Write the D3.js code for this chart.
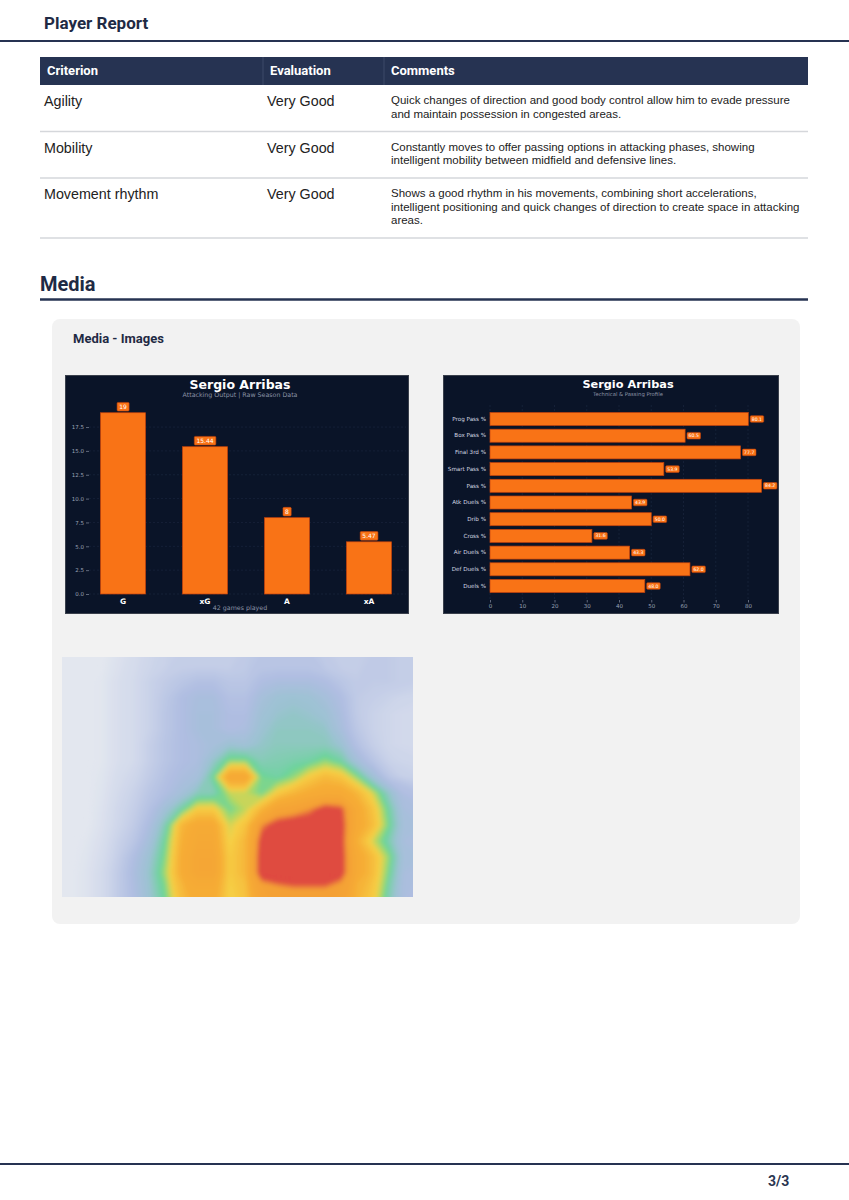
<!DOCTYPE html>
<html>
<head>
<meta charset="utf-8">
<script src="https://cdn.jsdelivr.net/npm/d3@7"></script>
<style>
  body { margin: 0; background: #fff; }
  svg { display: block; }
</style>
</head>
<body>
<div id="page"></div>
<script>
// ---------------- Data ----------------
var tableHeaders = ["Criterion", "Evaluation", "Comments"];
var criteria = ["Agility", "Mobility", "Movement rhythm"];
var evaluations = ["Very Good", "Very Good", "Very Good"];
var comments = [
  "Quick changes of direction and good body control allow him to evade pressure and maintain possession in congested areas.",
  "Constantly moves to offer passing options in attacking phases, showing intelligent mobility between midfield and defensive lines.",
  "Shows a good rhythm in his movements, combining short accelerations, intelligent positioning and quick changes of direction to create space in attacking areas."
];

var playerName = "Sergio Arribas";
var outputLabels = ["G", "xG", "A", "xA"];
var outputValues = [19, 15.44, 8, 5.47];
var outputTicks = [0, 2.5, 5, 7.5, 10, 12.5, 15, 17.5];
var gamesPlayed = 42;

var profileLabels = ["Prog Pass %", "Box Pass %", "Final 3rd %", "Smart Pass %", "Pass %", "Atk Duels %",
                     "Drib %", "Cross %", "Air Duels %", "Def Duels %", "Duels %"];
var profileValues = [80.1, 60.5, 77.7, 53.9, 84.2, 43.9, 50.0, 31.6, 43.3, 62.0, 48.0];
var profileTicks = [0, 10, 20, 30, 40, 50, 60, 70, 80];

// heatmap intensity grid (22 cols x 15 rows, top -> bottom)
var heatCols = 22, heatRows = 15;
var heatGrid = [
  [0, 0,    0,    0.05, 0.10, 0.15, 0.18, 0.20, 0.20, 0.20, 0.20, 0.22, 0.25, 0.25, 0.25, 0.25, 0.22, 0.20, 0.20, 0.22, 0.22, 0.20],
  [0, 0,    0.02, 0.08, 0.12, 0.18, 0.22, 0.25, 0.28, 0.28, 0.25, 0.25, 0.30, 0.32, 0.32, 0.32, 0.30, 0.25, 0.22, 0.22, 0.22, 0.20],
  [0, 0,    0.02, 0.08, 0.12, 0.18, 0.24, 0.30, 0.33, 0.33, 0.28, 0.28, 0.35, 0.39, 0.40, 0.39, 0.35, 0.30, 0.22, 0.20, 0.18, 0.15],
  [0, 0,    0.02, 0.08, 0.12, 0.18, 0.25, 0.30, 0.34, 0.34, 0.30, 0.30, 0.38, 0.41, 0.42, 0.41, 0.39, 0.32, 0.22, 0.18, 0.15, 0.12],
  [0, 0,    0.02, 0.08, 0.12, 0.18, 0.25, 0.30, 0.34, 0.34, 0.30, 0.32, 0.40, 0.43, 0.43, 0.43, 0.42, 0.34, 0.24, 0.18, 0.15, 0.12],
  [0, 0,    0.02, 0.08, 0.12, 0.20, 0.26, 0.30, 0.32, 0.35, 0.40, 0.38, 0.42, 0.44, 0.44, 0.44, 0.44, 0.40, 0.28, 0.20, 0.15, 0.12],
  [0, 0,    0.02, 0.08, 0.12, 0.20, 0.26, 0.30, 0.32, 0.42, 0.52, 0.52, 0.45, 0.46, 0.47, 0.48, 0.52, 0.48, 0.36, 0.26, 0.18, 0.15],
  [0, 0,    0.03, 0.10, 0.15, 0.22, 0.28, 0.32, 0.35, 0.50, 0.75, 0.75, 0.50, 0.48, 0.52, 0.60, 0.65, 0.62, 0.52, 0.38, 0.25, 0.18],
  [0, 0,    0.04, 0.12, 0.18, 0.25, 0.30, 0.36, 0.44, 0.45, 0.55, 0.55, 0.50, 0.60, 0.66, 0.70, 0.72, 0.72, 0.66, 0.56, 0.42, 0.28],
  [0, 0,    0.05, 0.14, 0.20, 0.28, 0.38, 0.48, 0.60, 0.60, 0.50, 0.55, 0.66, 0.78, 0.80, 0.84, 0.90, 0.88, 0.72, 0.62, 0.48, 0.32],
  [0, 0,    0.06, 0.15, 0.22, 0.32, 0.46, 0.66, 0.72, 0.72, 0.56, 0.62, 0.84, 0.90, 0.92, 0.92, 0.92, 0.90, 0.72, 0.64, 0.50, 0.34],
  [0, 0.02, 0.08, 0.18, 0.25, 0.36, 0.50, 0.68, 0.74, 0.74, 0.58, 0.66, 0.90, 0.93, 0.94, 0.94, 0.94, 0.90, 0.68, 0.56, 0.46, 0.32],
  [0, 0.03, 0.10, 0.20, 0.30, 0.40, 0.52, 0.70, 0.76, 0.76, 0.60, 0.66, 0.92, 0.94, 0.95, 0.95, 0.95, 0.90, 0.72, 0.64, 0.52, 0.34],
  [0, 0.04, 0.12, 0.22, 0.32, 0.42, 0.54, 0.70, 0.76, 0.76, 0.60, 0.66, 0.92, 0.94, 0.95, 0.95, 0.95, 0.90, 0.72, 0.64, 0.50, 0.32],
  [0, 0.04, 0.12, 0.22, 0.30, 0.40, 0.50, 0.64, 0.70, 0.70, 0.58, 0.62, 0.78, 0.82, 0.84, 0.84, 0.84, 0.80, 0.66, 0.60, 0.45, 0.30]
];

// ---------------- Page ----------------
var W = 849, H = 1200;
var navy = "#263352", ink = "#1f2a44";
var orange = "#f97316", orangeEdge = "#c2410c";
var panelBg = "#0a1428";
var heading = "Roboto, 'Noto Sans', sans-serif";
var body = "'Liberation Sans', Arial, sans-serif";
var mpl = "'DejaVu Sans', sans-serif";

var svg = d3.select("#page").append("svg")
  .attr("width", W).attr("height", H);

// header
svg.append("text").attr("x", 44).attr("y", 29)
  .attr("font-family", heading).attr("font-weight", 700).attr("font-size", 17)
  .attr("fill", ink).text("Player Report");
svg.append("line").attr("x1", 0).attr("x2", W).attr("y1", 41).attr("y2", 41)
  .attr("stroke", navy).attr("stroke-width", 2);

// ---------------- Table ----------------
var tableX = 40, tableW = 768, headTop = 57, headH = 28;
var colX = [40, 263, 384];
var headPad = [7, 7, 7];
var bodyPad = [4, 4, 7];

svg.append("rect").attr("x", tableX).attr("y", headTop).attr("width", tableW).attr("height", headH)
  .attr("fill", navy);
colX.slice(1).forEach(function(x) {
  svg.append("line").attr("x1", x).attr("x2", x).attr("y1", headTop).attr("y2", headTop + headH)
    .attr("stroke", "#3d4a68").attr("stroke-width", 1);
});
tableHeaders.forEach(function(h, i) {
  svg.append("text").attr("x", colX[i] + headPad[i]).attr("y", headTop + 18)
    .attr("font-family", heading).attr("font-weight", 700).attr("font-size", 13)
    .attr("fill", "#fff").text(h);
});

// wrap a comment string into lines that fit the comments column
function wrapLines(str, maxW, size) {
  var probe = svg.append("text").attr("font-family", body).attr("font-size", size);
  var words = str.split(" "), lines = [], cur = "";
  words.forEach(function(w) {
    var test = cur ? cur + " " + w : w;
    probe.text(test);
    if (probe.node().getComputedTextLength() > maxW && cur) {
      lines.push(cur);
      cur = w;
    } else {
      cur = test;
    }
  });
  if (cur) lines.push(cur);
  probe.remove();
  return lines;
}

var commentSize = 11.5;
var rowTop = headTop + headH;
criteria.forEach(function(c, i) {
  var lines = wrapLines(comments[i], 414, commentSize);
  var rowH = 19.5 + 13.5 * lines.length;
  svg.append("text").attr("x", colX[0] + bodyPad[0]).attr("y", rowTop + 21)
    .attr("font-family", body).attr("font-size", 14.3).attr("fill", "#222").text(c);
  svg.append("text").attr("x", colX[1] + bodyPad[1]).attr("y", rowTop + 21)
    .attr("font-family", body).attr("font-size", 14.3).attr("fill", "#222").text(evaluations[i]);
  var t = svg.append("text").attr("font-family", body).attr("font-size", commentSize).attr("fill", "#222");
  lines.forEach(function(l, k) {
    t.append("tspan").attr("x", colX[2] + bodyPad[2]).attr("y", rowTop + 19 + k * 13.5).text(l);
  });
  rowTop += rowH;
  svg.append("line").attr("x1", tableX).attr("x2", tableX + tableW).attr("y1", rowTop).attr("y2", rowTop)
    .attr("stroke", "#d5d7db").attr("stroke-width", 1.5);
});

// ---------------- Media section ----------------
svg.append("text").attr("x", 40).attr("y", 291)
  .attr("font-family", heading).attr("font-weight", 700).attr("font-size", 20)
  .attr("fill", ink).text("Media");
svg.append("line").attr("x1", 40).attr("x2", 808).attr("y1", 299.5).attr("y2", 299.5)
  .attr("stroke", navy).attr("stroke-width", 2.5);

svg.append("rect").attr("x", 52).attr("y", 319).attr("width", 748).attr("height", 605)
  .attr("rx", 8).attr("fill", "#f2f2f2");
svg.append("text").attr("x", 73).attr("y", 343)
  .attr("font-family", heading).attr("font-weight", 700).attr("font-size", 13)
  .attr("fill", ink).text("Media - Images");

// value tag: orange rounded box with white text
function valueTag(g, x, y, txt, size, anchor) {
  var t = g.append("text").attr("x", x).attr("y", y)
    .attr("font-family", mpl).attr("font-size", size).attr("fill", "#fff")
    .attr("text-anchor", anchor).attr("dominant-baseline", "central").text(txt);
  var bb = t.node().getBBox();
  g.insert("rect", function() { return t.node(); })
    .attr("x", bb.x - size * 0.35).attr("y", y - size * 0.72)
    .attr("width", bb.width + size * 0.7).attr("height", size * 1.44)
    .attr("rx", 1).attr("fill", orange).attr("stroke", orangeEdge).attr("stroke-width", 0.6);
}

// ---------------- Chart 1: attacking output ----------------
var c1 = svg.append("g");
c1.append("rect").attr("x", 65.5).attr("y", 375.5).attr("width", 343).attr("height", 238)
  .attr("fill", panelBg).attr("stroke", "#3a404c").attr("stroke-width", 1);
c1.append("text").attr("x", 240).attr("y", 389).attr("text-anchor", "middle")
  .attr("font-family", mpl).attr("font-weight", 700).attr("font-size", 12.5).attr("fill", "#fff")
  .text(playerName);
c1.append("text").attr("x", 240).attr("y", 397).attr("text-anchor", "middle")
  .attr("font-family", mpl).attr("font-size", 6.3).attr("fill", "#8a93a6")
  .text("Attacking Output | Raw Season Data");

var x1 = d3.scaleBand().domain(outputLabels).range([82, 410]).paddingInner(0.45).paddingOuter(0.225);
var y1 = d3.scaleLinear().domain([0, 20]).range([594, 403.2]);

c1.append("g").selectAll("line").data(outputTicks).enter().append("line")
  .attr("x1", 89).attr("x2", 406).attr("y1", function(d) { return y1(d); }).attr("y2", function(d) { return y1(d); })
  .attr("stroke", "#1c2842").attr("stroke-width", 0.6).attr("stroke-dasharray", "2,2");

var y1Axis = c1.append("g").attr("transform", "translate(89,0)")
  .call(d3.axisLeft(y1).tickValues(outputTicks).tickFormat(d3.format(".1f")).tickSize(3).tickPadding(2));
y1Axis.select(".domain").remove();
y1Axis.selectAll(".tick line").attr("stroke", "#9aa3b5").attr("stroke-width", 0.6);
y1Axis.selectAll(".tick text").attr("fill", "#9aa3b5").attr("font-family", mpl).attr("font-size", 5.5);

c1.append("g").selectAll("rect").data(outputValues).enter().append("rect")
  .attr("x", function(d, i) { return x1(outputLabels[i]); })
  .attr("width", x1.bandwidth())
  .attr("y", function(d) { return y1(d); })
  .attr("height", function(d) { return y1(0) - y1(d); })
  .attr("fill", orange).attr("stroke", orangeEdge).attr("stroke-width", 0.7);

outputValues.forEach(function(v, i) {
  valueTag(c1, x1(outputLabels[i]) + x1.bandwidth() / 2, y1(v) - 6, String(v), 6, "middle");
});

c1.append("g").selectAll("text").data(outputLabels).enter().append("text")
  .attr("x", function(d) { return x1(d) + x1.bandwidth() / 2; }).attr("y", 604)
  .attr("text-anchor", "middle").attr("font-family", mpl).attr("font-weight", 700)
  .attr("font-size", 7.5).attr("fill", "#fff").text(function(d) { return d; });
c1.append("text").attr("x", 240).attr("y", 610).attr("text-anchor", "middle")
  .attr("font-family", mpl).attr("font-size", 6.3).attr("fill", "#8a93a6")
  .text(gamesPlayed + " games played");

// ---------------- Chart 2: technical profile ----------------
var c2 = svg.append("g");
c2.append("rect").attr("x", 443.5).attr("y", 375.5).attr("width", 335).attr("height", 238)
  .attr("fill", panelBg).attr("stroke", "#3a404c").attr("stroke-width", 1);
c2.append("text").attr("x", 628).attr("y", 388).attr("text-anchor", "middle")
  .attr("font-family", mpl).attr("font-weight", 700).attr("font-size", 11.3).attr("fill", "#fff")
  .text(playerName);
c2.append("text").attr("x", 628).attr("y", 396).attr("text-anchor", "middle")
  .attr("font-family", mpl).attr("font-size", 5.3).attr("fill", "#8a93a6")
  .text("Technical & Passing Profile");

var x2 = d3.scaleLinear().domain([0, 88]).range([490, 773.8]);
var y2 = d3.scaleBand().domain(profileLabels).range([410.65, 594.35]).paddingInner(0.22).paddingOuter(0.11);

c2.append("g").selectAll("line").data(profileTicks).enter().append("line")
  .attr("x1", function(d) { return x2(d); }).attr("x2", function(d) { return x2(d); })
  .attr("y1", 405).attr("y2", 599)
  .attr("stroke", "#1c2842").attr("stroke-width", 0.6).attr("stroke-dasharray", "2,2");

var x2Axis = c2.append("g").attr("transform", "translate(0,600)")
  .call(d3.axisBottom(x2).tickValues(profileTicks).tickSize(2.5).tickPadding(2));
x2Axis.select(".domain").remove();
x2Axis.selectAll(".tick line").attr("stroke", "#9aa3b5").attr("stroke-width", 0.6);
x2Axis.selectAll(".tick text").attr("fill", "#9aa3b5").attr("font-family", mpl).attr("font-size", 5.5);

var y2Axis = c2.append("g").attr("transform", "translate(490,0)")
  .call(d3.axisLeft(y2).tickSize(0).tickPadding(4));
y2Axis.select(".domain").remove();
y2Axis.selectAll(".tick text").attr("fill", "#d4d9e2").attr("font-family", mpl).attr("font-size", 5.6);

c2.append("g").selectAll("rect").data(profileValues).enter().append("rect")
  .attr("x", x2(0))
  .attr("y", function(d, i) { return y2(profileLabels[i]); })
  .attr("width", function(d) { return x2(d) - x2(0); })
  .attr("height", y2.bandwidth())
  .attr("fill", orange).attr("stroke", orangeEdge).attr("stroke-width", 0.7);

profileValues.forEach(function(v, i) {
  valueTag(c2, x2(v) + 3.5, y2(profileLabels[i]) + y2.bandwidth() / 2, v.toFixed(1), 4.6, "start");
});

// ---------------- Heatmap ----------------
var hmX = 62, hmY = 657, hmW = 351, hmH = 240;
var hm = svg.append("g").attr("transform", "translate(" + hmX + "," + hmY + ")");
var defs = svg.append("defs");
defs.append("clipPath").attr("id", "hmclip").append("rect")
  .attr("width", hmW).attr("height", hmH);
defs.append("filter").attr("id", "hmblur").attr("x", "-10%").attr("y", "-10%")
  .attr("width", "120%").attr("height", "120%")
  .append("feGaussianBlur").attr("stdDeviation", 2.2);

var heatColor = d3.scaleLinear()
  .domain([0, 0.15, 0.3, 0.4, 0.45, 0.49, 0.53, 0.58, 0.68, 0.83, 0.87])
  .range(["#e3e7ef", "#ced6ea", "#afbde1", "#9cc2d2", "#84ccb4", "#6bd49b", "#a9d968", "#f6d046",
          "#f6ad36", "#f4a035", "#df4b40"])
  .clamp(true);

var heatValues = [];
heatGrid.forEach(function(row) { row.forEach(function(v) { heatValues.push(v); }); });
var contours = d3.contours().size([heatCols, heatRows])
  .thresholds(d3.range(0.01, 1.0, 0.01))(heatValues);

// stretch the outer half-cells a little past the clip to hide blur edges
var hx = d3.scaleLinear().domain([0, heatCols]).range([0, hmW]);
var hy = d3.scaleLinear().domain([0, heatRows]).range([0, hmH]);
var proj = d3.geoTransform({ point: function(px, py) {
  var sx = px <= 0.5 ? -6 : px >= heatCols - 0.5 ? hmW + 6 : hx(px);
  var sy = py <= 0.5 ? -6 : py >= heatRows - 0.5 ? hmH + 6 : hy(py);
  this.stream.point(sx, sy);
} });
var heatPath = d3.geoPath(proj);

var hmClip = hm.append("g").attr("clip-path", "url(#hmclip)");
hmClip.append("rect").attr("width", hmW).attr("height", hmH).attr("fill", heatColor(0));
hmClip.append("g").attr("filter", "url(#hmblur)")
  .selectAll("path").data(contours).enter().append("path")
  .attr("d", heatPath)
  .attr("fill", function(d) { return heatColor(d.value); });

// ---------------- Footer ----------------
svg.append("line").attr("x1", 0).attr("x2", W).attr("y1", 1164).attr("y2", 1164)
  .attr("stroke", navy).attr("stroke-width", 2);
svg.append("text").attr("x", 768).attr("y", 1186)
  .attr("font-family", heading).attr("font-weight", 700).attr("font-size", 14)
  .attr("fill", "#2a3550").text("3/3");
</script>
</body>
</html>
